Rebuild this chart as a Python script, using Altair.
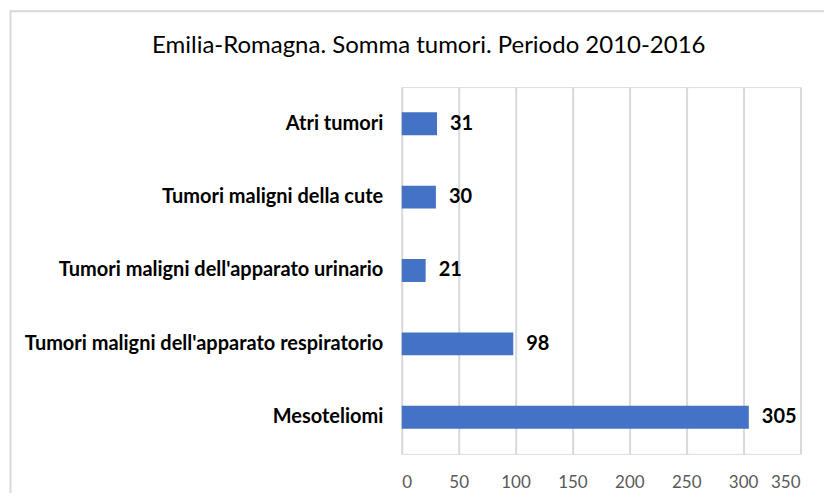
import altair as alt
import pandas as pd

categories = [
    "Atri tumori ",
    "Tumori maligni della cute",
    "Tumori maligni dell'apparato urinario",
    "Tumori maligni dell'apparato respiratorio",
    "Mesoteliomi",
]
values = [31, 30, 21, 98, 305]
x_ticks = [0, 50, 100, 150, 200, 250, 300, 350]
title_text = "Emilia-Romagna. Somma tumori. Periodo 2010-2016"

FONT = "Lato"
W, H = 398.5, 367

df = pd.DataFrame({"cat": categories, "val": values})

y_scale = alt.Scale(paddingInner=0.687, paddingOuter=0.343)
x_scale = alt.Scale(domain=[0, 350], nice=False)

bars = alt.Chart(df).mark_bar(color="#4472C4").encode(
    x=alt.X(
        "val:Q",
        scale=x_scale,
        axis=alt.Axis(
            values=x_ticks, title=None, domain=False, ticks=False, tickSize=0,
            labelPadding=21, grid=True, gridColor="#d9d9d9", gridWidth=2,
            labelFont=FONT, labelFontSize=17, labelColor="#595959",
        ),
    ),
    y=alt.Y(
        "cat:N",
        sort=categories,
        scale=y_scale,
        axis=alt.Axis(
            title=None, domain=False, ticks=False, tickSize=0, labelPadding=19,
            labelFont=FONT, labelFontWeight="bold", labelFontSize=20,
            labelColor="#000000", labelLimit=500,
        ),
    ),
)

labels = alt.Chart(df).mark_text(
    align="left", baseline="middle", dx=13, font=FONT, fontWeight="bold",
    fontSize=20, color="#000000",
).encode(
    x=alt.X("val:Q", scale=x_scale),
    y=alt.Y("cat:N", sort=categories, scale=y_scale),
    text="val:Q",
)

title = alt.Chart(pd.DataFrame({"t": [title_text]})).mark_text(
    align="center", baseline="middle", font=FONT, fontSize=24, color="#000000",
).encode(x=alt.value(27), y=alt.value(-41), text="t:N")

border = alt.Chart(pd.DataFrame({"a": [0]})).mark_rect(
    fillOpacity=0, stroke="#d9d9d9", strokeWidth=2,
).encode(
    x=alt.value(-391.5), x2=alt.value(460), y=alt.value(-76), y2=alt.value(460),
)

chart = alt.layer(border, bars, labels, title).properties(
    width=W, height=H,
    autosize=alt.AutoSizeParams(type="none"),
    padding={"left": 394, "top": 79, "right": 24, "bottom": 39},
).configure_view(stroke=None).configure(background="white")

chart.save("out.html", embed_options={"renderer": "svg", "actions": False})
